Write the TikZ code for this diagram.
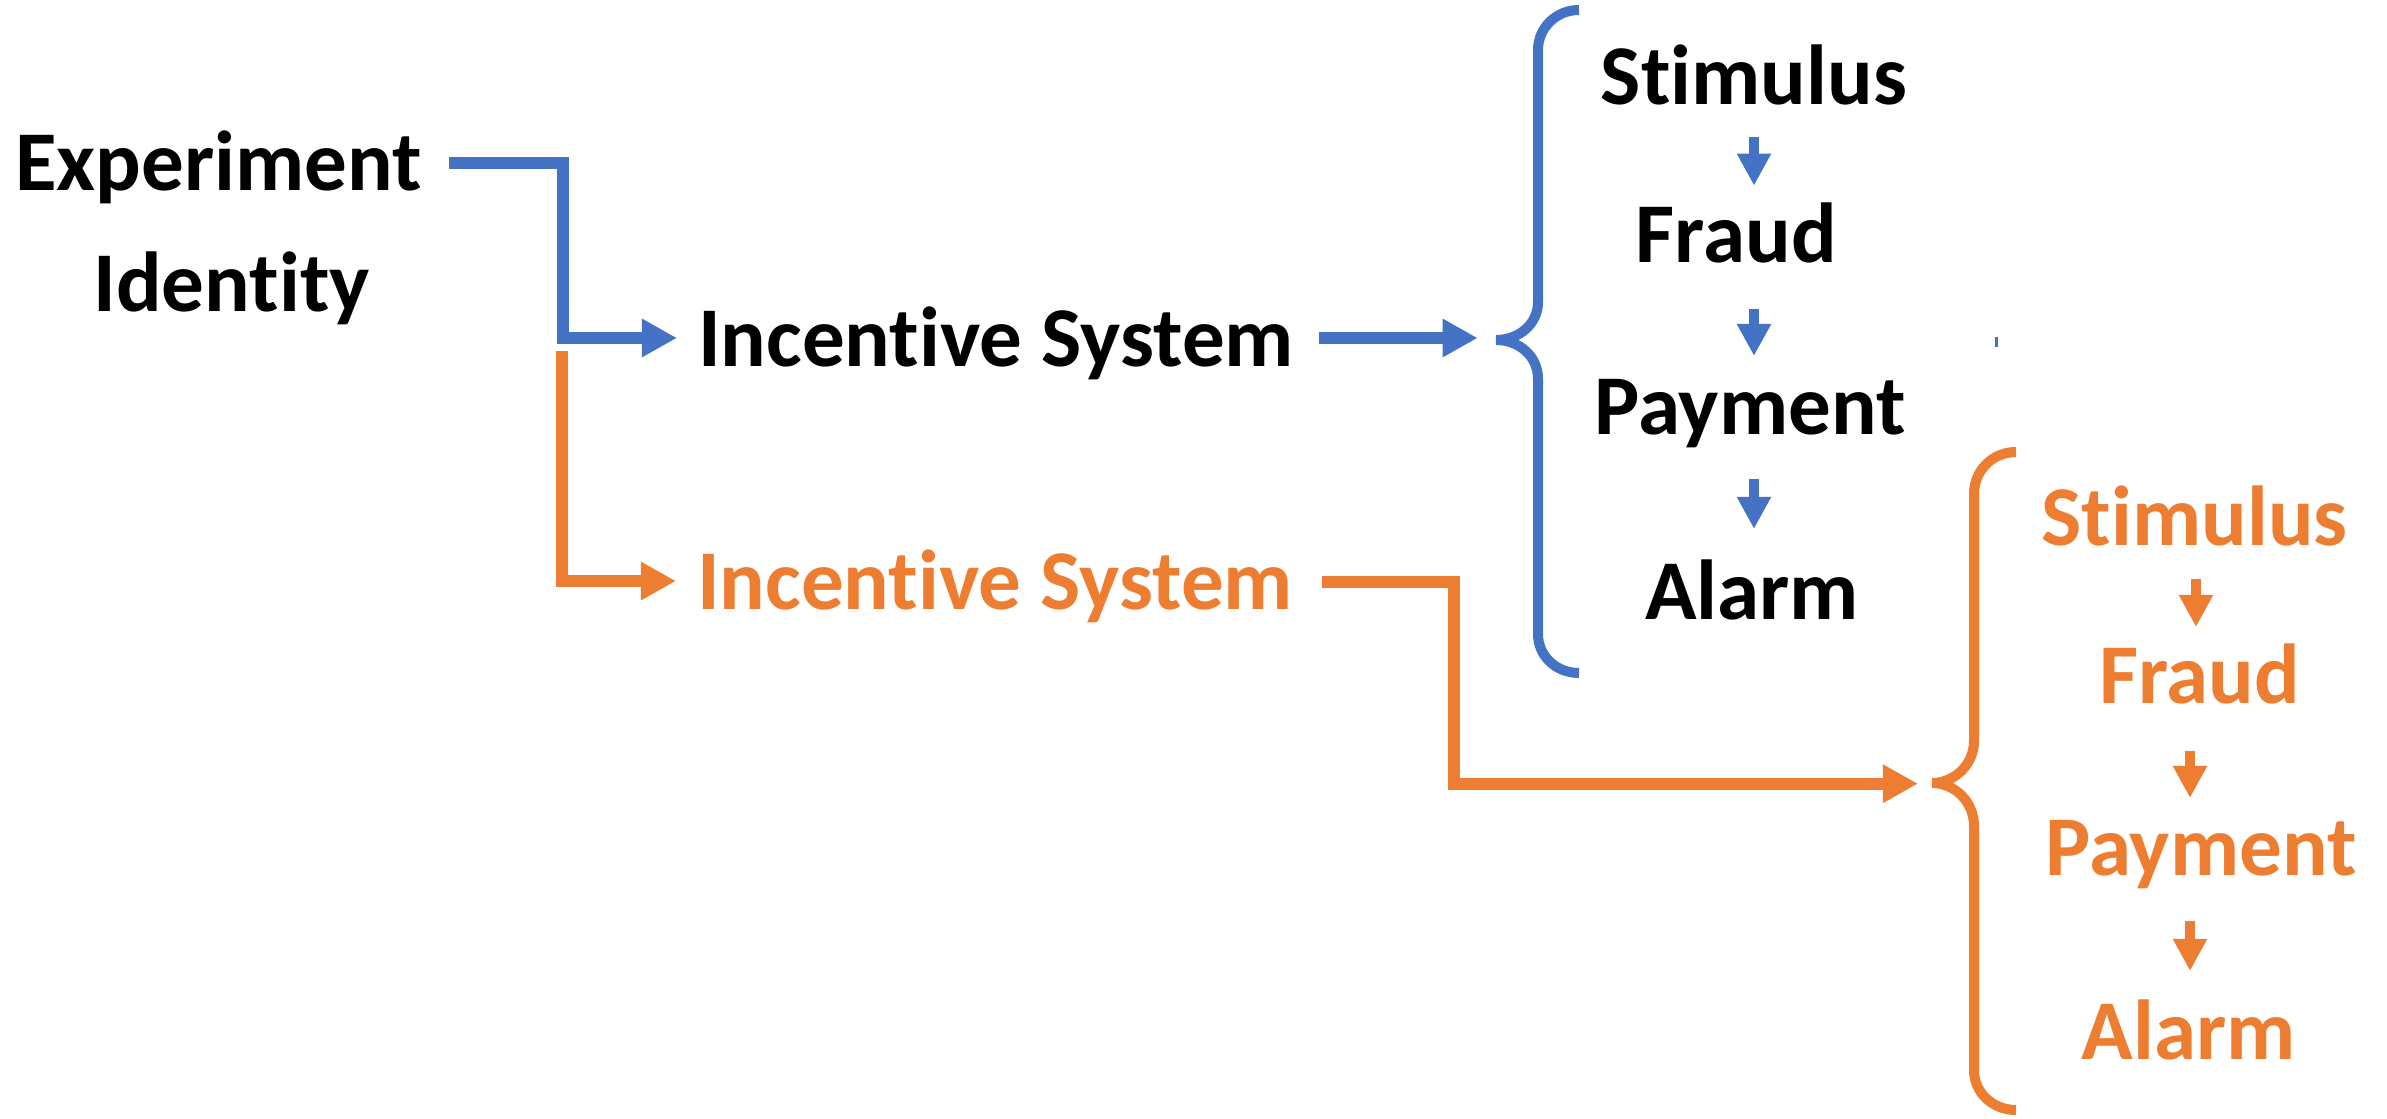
\documentclass[tikz,border=0pt]{standalone}
\usepackage{fontspec}
\setmainfont[RawFeature={-liga;-clig;-calt;-dlig}]{Carlito}
\usetikzlibrary{arrows.meta}
\definecolor{cblue}{HTML}{4472C4}
\definecolor{corange}{HTML}{ED7D31}
\newcommand\lblfont{\fontsize{24.2pt}{29pt}\selectfont\bfseries}
\begin{document}
\begin{tikzpicture}[x=0.01cm,y=-0.01cm,
  lbl/.style={inner sep=0pt, outer sep=0pt, anchor=base, font=\lblfont},
  olbl/.style={lbl, text=corange},
  conn/.style={line width=0.12cm, line join=miter, -{Triangle[width=0.36cm,length=0.35cm]}},
  bluecon/.style={conn, draw=cblue},
  orangecon/.style={conn, draw=corange},
  bracestroke/.style={line width=0.10cm, line cap=butt},
  smallarrow/.style={line width=0.107cm, -{Triangle[width=0.32cm,length=0.32cm]}}
]
\useasboundingbox (0,0) rectangle (2387,1119);

% left texts
\node[lbl] (exp) at (218.7,190.7) {Experiment};
\node[lbl] (ident) at (231.7,311.7) {Identity};
\node[lbl] (incb) at (996,366.7) {Incentive System};
\node[olbl] (inco) at (995,610) {Incentive System};

% blue list
\node[lbl] (stb) at (1754,105) {Stimulus};
\node[lbl] (frb) at (1736.3,262.5) {Fraud};
\node[lbl] (payb) at (1750,435) {Payment};
\node[lbl] (alb) at (1752,619.6) {Alarm};

% orange list
\node[olbl] (sto) at (2194.5,546) {Stimulus};
\node[olbl] (fro) at (2199.5,704) {Fraud};
\node[olbl] (payo) at (2201,876) {Payment};
\node[olbl] (alo) at (2188.5,1060) {Alarm};

% connector end points
\coordinate (b0) at (449,163.3);
\coordinate (b1) at (677,338);
\coordinate (o0) at (562,350.7);
\coordinate (o1) at (676,581);
\coordinate (b2) at (1318.5,338);
\coordinate (b3) at (1477.7,338);
\coordinate (o2) at (1322,581.7);
\coordinate (o3) at (1918,783.7);

% main connectors
\draw[bluecon] (b0) -- (563,163.3) -- (563,338) -- (b1);
\draw[orangecon] (o0) -- (562,581) -- (o1);
\draw[bluecon] (b2) -- (b3);
\draw[orangecon] (o2) -- (1454,581.7) -- (1454,783.7) -- (o3);

% blue brace
\draw[bracestroke, cblue] (1579,10) .. controls (1556,10) and (1538,28) .. (1538,50)
  -- (1538,302) .. controls (1538,324) and (1519,340) .. (1496,340);
\draw[bracestroke, cblue] (1496,340) .. controls (1519,340) and (1538,356) .. (1538,379)
  -- (1538,634) .. controls (1538,656) and (1556,673) .. (1579,673);

% orange brace
\draw[bracestroke, corange] (2016,452) .. controls (1993,452) and (1974,470) .. (1974,494)
  -- (1974,741) .. controls (1974,764) and (1955,783) .. (1932,783);
\draw[bracestroke, corange] (1932,783) .. controls (1955,783) and (1974,802) .. (1974,826)
  -- (1974,1070) .. controls (1974,1093) and (1993,1110) .. (2016,1110);

% small arrows blue
\coordinate (sb1a) at (1754,137.5); \coordinate (sb1b) at (1754,185.7);
\coordinate (sb2a) at (1754,309);   \coordinate (sb2b) at (1754,356);
\coordinate (sb3a) at (1754,479);   \coordinate (sb3b) at (1754,529);
\draw[smallarrow, cblue] (sb1a) -- (sb1b);
\draw[smallarrow, cblue] (sb2a) -- (sb2b);
\draw[smallarrow, cblue] (sb3a) -- (sb3b);

% small arrows orange
\coordinate (so1a) at (2196,579); \coordinate (so1b) at (2196,627);
\coordinate (so2a) at (2190,751); \coordinate (so2b) at (2190,798);
\coordinate (so3a) at (2190,921); \coordinate (so3b) at (2190,971);
\draw[smallarrow, corange] (so1a) -- (so1b);
\draw[smallarrow, corange] (so2a) -- (so2b);
\draw[smallarrow, corange] (so3a) -- (so3b);

% small blue tick
\fill[cblue] (1994.5,337) rectangle (1997.5,347);
\end{tikzpicture}
\end{document}
